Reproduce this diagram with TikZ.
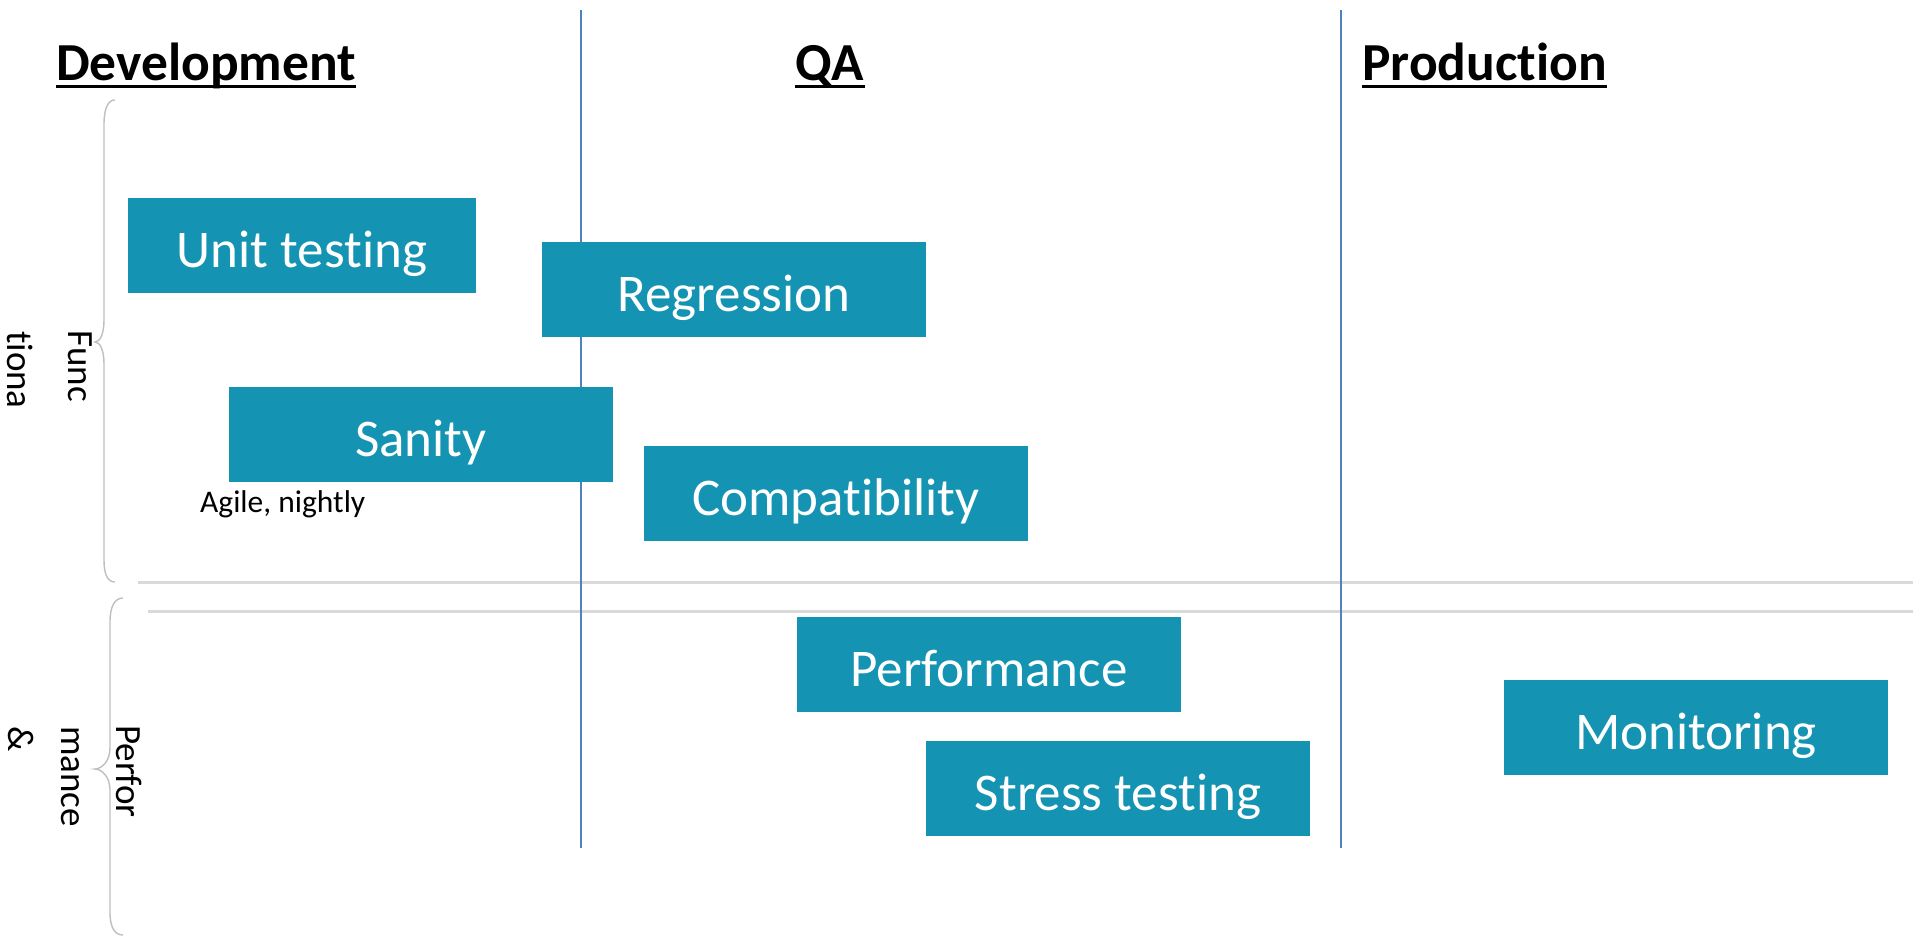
\documentclass[tikz,border=0pt]{standalone}
\usepackage{fontspec}
\setmainfont{Carlito}[Ligatures={NoCommon,NoContextual,NoRare,NoDiscretionary}, RawFeature={-liga}]
\definecolor{boxteal}{RGB}{20,148,178}
\definecolor{vline}{RGB}{79,129,189}
\definecolor{hline}{RGB}{217,217,217}
\definecolor{bracegray}{RGB}{191,191,191}
\tikzset{
  stagebox/.style={fill=boxteal, draw=none, inner sep=0pt, minimum width=384pt, minimum height=95pt,
    text=white, font=\fontsize{53}{60}\selectfont, text height=50pt, text depth=7pt},
  header/.style={anchor=base west, inner sep=0pt, font=\bfseries\fontsize{53.5}{60}\selectfont},
  uline/.style={line width=3pt, black},
  sidelbl/.style={anchor=base west, inner sep=0pt, rotate=-90, font=\fontsize{37}{44}\selectfont},
  stageline/.style={vline, line width=2.2pt},
  rowline/.style={hline, line width=2.2pt},
  bracestyle/.style={bracegray, line width=1.4pt}
}
\begin{document}
\begin{tikzpicture}[x=1pt, y=-1pt]
\useasboundingbox (0,0) rectangle (1913,936);
\fill[white] (0,0) rectangle (1913,936);

% row separators
\coordinate (r1a) at (138,582.5); \coordinate (r1b) at (1913,582.5);
\coordinate (r2a) at (148,611.5); \coordinate (r2b) at (1913,611.5);
\draw[rowline] (r1a) -- (r1b);
\draw[rowline] (r2a) -- (r2b);

% stage lines
\coordinate (v1t) at (581,10); \coordinate (v1b) at (581,848);
\coordinate (v2t) at (1341,10); \coordinate (v2b) at (1341,848);
\draw[stageline] (v1t) -- (v1b);
\draw[stageline] (v2t) -- (v2b);

% headers
\node[header] (hdev) at (56,81) {Development};
\node[header] (hqa) at (795,81) {QA};
\node[header] (hprod) at (1362,81) {Production};
\foreach \h in {hdev,hqa,hprod}{
  \draw[uline] ([yshift=-6pt]\h.base west) -- ([yshift=-6pt]\h.base east);
}

% braces
\draw[bracestyle] (115,100) .. controls (108,100) and (104,108) .. (104,125) -- (104,320)
  .. controls (104,334) and (100,342) .. (95,342)
  .. controls (100,342) and (104,350) .. (104,364) -- (104,560)
  .. controls (104,575) and (108,582) .. (115,582);
\draw[bracestyle] (123,598) .. controls (115,598) and (110,606) .. (110,622) -- (110,748)
  .. controls (110,762) and (101,769) .. (95,769)
  .. controls (101,769) and (110,776) .. (110,790) -- (110,912)
  .. controls (110,928) and (115,935) .. (123,935);

% side labels
\node[sidelbl] (fa) at (68,330) {Func};
\node[sidelbl] (fb) at (8,331) {tiona};
\node[sidelbl] (pa) at (116,725) {Perfor};
\node[sidelbl] (pb) at (61,726) {mance};
\node[sidelbl] (pc) at (9,726) {\&};

% boxes
\node[stagebox, minimum width=348pt] (unit) at (302,245.5) {Unit testing};
\node[stagebox] (regr) at (734,289.5) {Regression};
\node[stagebox] (sanity) at (421,434.5) {Sanity};
\node[stagebox] (compat) at (836,493.5) {Compatibility};
\node[stagebox] (perf) at (989,664.5) {Performance};
\node[stagebox] (stress) at (1118,788.5) {Stress testing};
\node[stagebox] (mon) at (1696,727.5) {Monitoring};

\node[anchor=base west, inner sep=0pt, font=\fontsize{31.5}{36}\selectfont] (agile) at (200,512) {Agile, nightly};
\end{tikzpicture}
\end{document}
